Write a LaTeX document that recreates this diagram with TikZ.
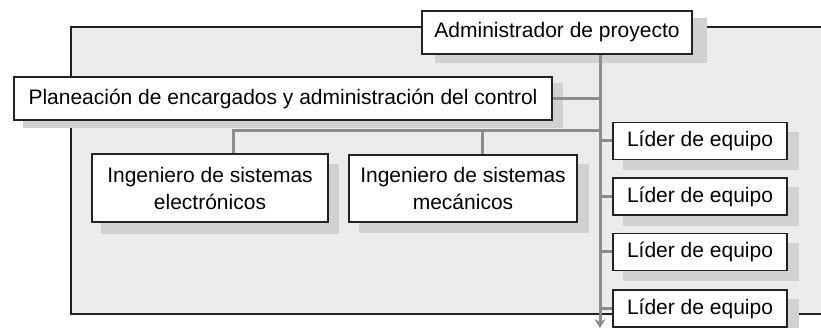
\documentclass[tikz,border=0pt]{standalone}
\usepackage{fontspec}
\setmainfont{Liberation Sans}
\usetikzlibrary{arrows.meta}
\pgfdeclarelayer{bg}
\pgfdeclarelayer{shade}
\pgfdeclarelayer{conn}
\pgfsetlayers{bg,shade,conn,main}
\definecolor{panel}{HTML}{ECECEC}
\definecolor{shadowc}{HTML}{D1D1D3}
\definecolor{linkc}{HTML}{8C8C8C}
\definecolor{edgec}{HTML}{222222}
\begin{document}
\begin{tikzpicture}[x=1pt,y=-1pt,
  box/.style={draw=edgec, line width=1.8pt, fill=white, inner sep=0pt, align=center,
    font=\fontsize{21}{27}\selectfont},
  link/.style={draw=linkc, line width=3pt},
  panelbox/.style={fill=panel, draw=edgec, line width=1.3pt},
  shadebox/.style={fill=shadowc}]
\useasboundingbox (0,0) rectangle (821,328);
% nodes
\node[box, minimum width=270pt, minimum height=43pt] (admin) at (557,32.5) {Administrador de proyecto};
\node[box, minimum width=538pt, minimum height=43pt] (plan) at (283,98.5) {Planeación de encargados y administración del control};
\node[box, minimum width=236pt, minimum height=68pt] (elec) at (210,188) {Ingeniero de sistemas\\electrónicos};
\node[box, minimum width=228pt, minimum height=67pt] (mec) at (463,188.5) {Ingeniero de sistemas\\mecánicos};
\node[box, minimum width=174pt, minimum height=37pt] (l1) at (700,141) {Líder de equipo};
\node[box, minimum width=174pt, minimum height=37pt] (l2) at (700,196.5) {Líder de equipo};
\node[box, minimum width=174pt, minimum height=37pt] (l3) at (700,252) {Líder de equipo};
\node[box, minimum width=174pt, minimum height=37pt] (l4) at (700,308.5) {Líder de equipo};
\coordinate (sx) at (600,0);
\coordinate (hl) at (233,131);
\coordinate (hm) at (482,131);
\coordinate (arrowend) at (600,328);
% background panel
\begin{pgfonlayer}{bg}
  \clip (0,0) rectangle (821,328);
  \path[panelbox] (71,27) rectangle (840,314);
\end{pgfonlayer}
% shadows
\begin{pgfonlayer}{shade}
  \foreach \n/\dx/\dy in {admin/14/8, plan/10/7, elec/10/11, mec/11/10, l1/11/10, l2/11/10, l3/11/10, l4/11/10}
    \path[shadebox] ([shift={(\dx,\dy)}]\n.north west) rectangle ([shift={(\dx,\dy)}]\n.south east);
\end{pgfonlayer}
% connectors
\begin{pgfonlayer}{conn}
  \draw[link, -{Stealth[length=9pt,width=11pt,inset=3pt]}] (admin.south -| sx) -- (arrowend);
  \draw[link] (plan.east) -- (plan.east -| sx);
  \draw[link] (hl -| sx) -- (hl) -- (hl |- elec.north);
  \draw[link] (hm) -- (hm |- mec.north);
  \foreach \n in {l1,l2,l3,l4}
    \draw[link] (\n.west -| sx) -- (\n.west);
\end{pgfonlayer}
\end{tikzpicture}
\end{document}
